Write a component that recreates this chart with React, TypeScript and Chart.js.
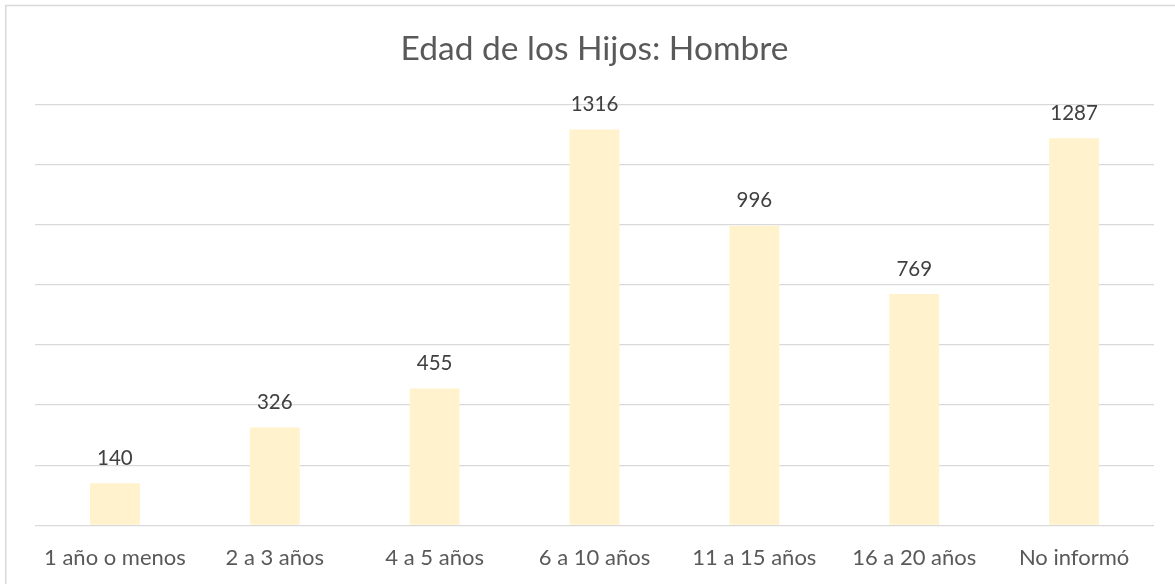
import React, { useEffect, useRef } from "react";
import { Chart, registerables } from "chart.js";

Chart.register(...registerables);

const categories = [
  "1 año o menos",
  "2 a 3 años",
  "4 a 5 años",
  "6 a 10 años",
  "11 a 15 años",
  "16 a 20 años",
  "No informó",
];
const values = [140, 326, 455, 1316, 996, 769, 1287];
const titleText = "Edad de los Hijos: Hombre";
const yMin = 0;
const yMax = 1400;
const yStep = 200;

const W = 1175;
const H = 584;

const extras = {
  id: "extras",
  afterDatasetsDraw(chart: any) {
    const ctx = chart.ctx;
    const meta = chart.getDatasetMeta(0);
    ctx.save();
    ctx.fillStyle = "#404040";
    ctx.font = "20.5px Lato";
    ctx.textAlign = "center";
    ctx.textBaseline = "middle";
    meta.data.forEach((bar: any, i: number) => {
      ctx.fillText(String(values[i]), bar.x, bar.y - 25);
    });
    ctx.restore();
  },
  afterDraw(chart: any) {
    const ctx = chart.ctx;
    ctx.save();
    ctx.strokeStyle = "#d9d9d9";
    ctx.lineWidth = 1.5;
    ctx.beginPath();
    ctx.moveTo(5.75, H);
    ctx.lineTo(5.75, 5.5);
    ctx.lineTo(W, 5.5);
    ctx.stroke();
    ctx.restore();
  },
};

export default function App() {
  const ref = useRef<HTMLCanvasElement>(null);
  useEffect(() => {
    if (!ref.current) return;
    const chart = new Chart(ref.current, {
      type: "bar",
      data: {
        labels: categories,
        datasets: [
          {
            data: values,
            backgroundColor: "#FFF2CC",
            borderWidth: 0,
            categoryPercentage: 1,
            barPercentage: 0.3125,
          },
        ],
      },
      options: {
        responsive: false,
        animation: false,
        devicePixelRatio: 1,
        layout: { padding: { left: 35, right: 21, top: 0, bottom: 0 } },
        plugins: {
          legend: { display: false },
          tooltip: { enabled: false },
          title: {
            display: true,
            text: titleText,
            color: "#595959",
            font: { family: "Lato", size: 33.5, weight: "normal" },
            padding: { top: 29, bottom: 35 },
          },
        },
        scales: {
          x: {
            grid: { display: false },
            border: { display: false },
            ticks: {
              color: "#595959",
              font: { family: "Lato", size: 22 },
              padding: 11,
              maxRotation: 0,
              autoSkip: false,
            },
            afterFit: (s: any) => {
              s.height = 58.5;
            },
          },
          y: {
            min: yMin,
            max: yMax,
            ticks: { display: false, stepSize: yStep },
            grid: { color: "#d9d9d9", lineWidth: 1.3, drawTicks: false },
            border: { display: false },
            afterFit: (s: any) => {
              s.width = 0;
            },
          },
        },
      },
      plugins: [extras],
    });
    return () => chart.destroy();
  }, []);
  return (
    <div style={{ position: "fixed", left: 0, top: 0, width: W, height: H, background: "#fff" }}>
      <canvas ref={ref} width={W} height={H} style={{ display: "block" }} />
    </div>
  );
}
